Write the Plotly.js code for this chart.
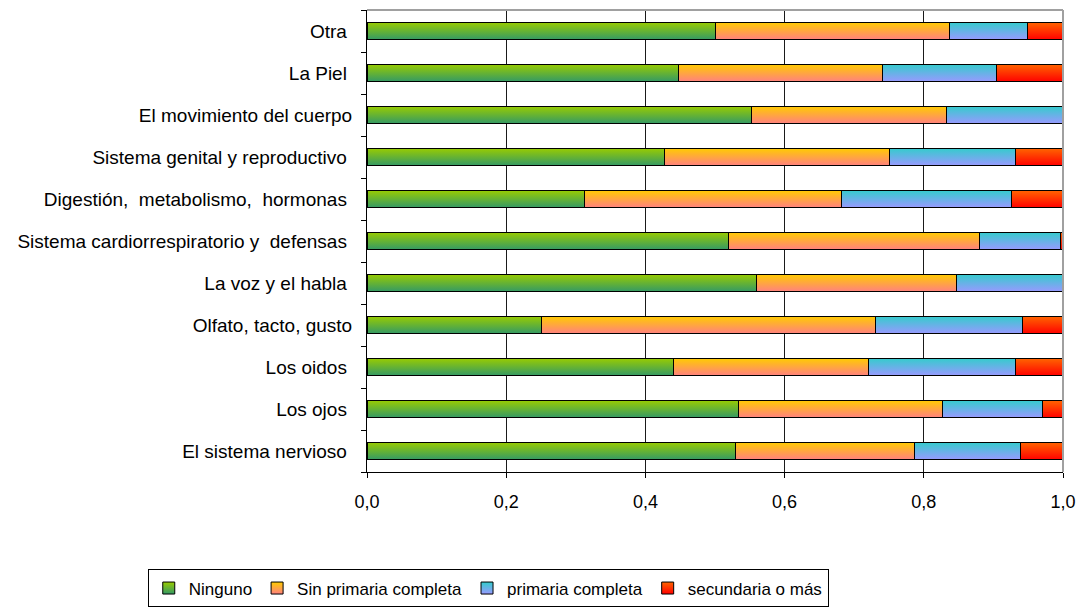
<!DOCTYPE html>
<html>
<head>
<meta charset="utf-8">
<script src="https://cdn.plot.ly/plotly-3.0.1.min.js"></script>
<style>
  html, body { margin: 0; padding: 0; background: #fff; }
  #chart { width: 1078px; height: 607px; }
</style>
</head>
<body>
<div id="chart"></div>
<script>
// Categories, bottom to top
const categories = [
  "El sistema nervioso\u00a0",
  "Los ojos\u00a0",
  "Los oidos\u00a0",
  "Olfato, tacto, gusto",
  "La voz y el habla\u00a0",
  "Sistema cardiorrespiratorio y\u00a0\u00a0defensas\u00a0",
  "Digesti\u00f3n,\u00a0\u00a0metabolismo,\u00a0\u00a0hormonas\u00a0",
  "Sistema genital y reproductivo\u00a0",
  "El movimiento del cuerpo",
  "La Piel\u00a0",
  "Otra\u00a0"
];

const seriesNames = ["Ninguno", "Sin primaria completa", "primaria completa", "secundaria o m\u00e1s"];

const ninguno       = [0.529, 0.534, 0.440, 0.250, 0.559, 0.519, 0.313, 0.428, 0.552, 0.448, 0.501];
const sinPrimaria   = [0.257, 0.293, 0.280, 0.480, 0.288, 0.361, 0.369, 0.323, 0.280, 0.293, 0.336];
const primaria      = [0.153, 0.143, 0.212, 0.212, 0.152, 0.117, 0.244, 0.181, 0.168, 0.163, 0.112];
const secundaria    = [0.061, 0.030, 0.068, 0.058, 0.000, 0.003, 0.074, 0.068, 0.000, 0.096, 0.051];

const xTickVals = [0, 0.2, 0.4, 0.6, 0.8, 1.0];

const solidColors = ["#66b033", "#ffa855", "#66b2e6", "#ff3300"];
const gradientStops = [
  ["#99cc00", "#339966"],
  ["#ffcc00", "#ff8080"],
  ["#33cccc", "#9999ff"],
  ["#ff6600", "#ff0000"]
];

const seriesValues = [ninguno, sinPrimaria, primaria, secundaria];

const data = seriesValues.map((vals, i) => ({
  type: "bar",
  orientation: "h",
  name: seriesNames[i],
  y: categories,
  x: vals,
  marker: { color: solidColors[i], line: { color: "#000", width: 1 } },
  hoverinfo: "none"
}));

const layout = {
  width: 1078,
  height: 607,
  margin: { l: 367, r: 15, t: 10, b: 135, autoexpand: false },
  paper_bgcolor: "#fff",
  plot_bgcolor: "#fff",
  barmode: "stack",
  bargap: 0.58,
  separators: ", ",
  font: { family: "Arial, 'Liberation Sans', sans-serif", size: 18, color: "#000" },
  xaxis: {
    range: [0, 1],
    tickvals: xTickVals,
    tickformat: ".1f",
    showgrid: true,
    gridcolor: "#1a1a1a",
    gridwidth: 1,
    zeroline: false,
    showline: true,
    linecolor: "#000",
    linewidth: 1,
    ticks: "outside",
    ticklen: 5,
    tickcolor: "#000",
    ticklabelstandoff: 8,
    tickfont: { size: 18 },
    fixedrange: true
  },
  yaxis: {
    type: "category",
    categoryorder: "array",
    categoryarray: categories,
    showgrid: false,
    zeroline: false,
    showline: true,
    linecolor: "#000",
    linewidth: 1,
    ticks: "outside",
    tickson: "boundaries",
    ticklen: 5,
    tickcolor: "#000",
    ticklabelstandoff: 10,
    tickfont: { size: 19 },
    fixedrange: true
  },
  shapes: [
    { type: "line", xref: "paper", yref: "paper", x0: 0, x1: 1, y0: 1, y1: 1, line: { color: "#a0a0a0", width: 2 }, layer: "above" },
    { type: "line", xref: "paper", yref: "paper", x0: 1, x1: 1, y0: 0, y1: 1, line: { color: "#a0a0a0", width: 2 }, layer: "above" }
  ],
  showlegend: true,
  legend: {
    orientation: "h",
    traceorder: "normal",
    x: -0.315,
    xanchor: "left",
    y: -0.211,
    yanchor: "top",
    bgcolor: "#fff",
    bordercolor: "#000",
    borderwidth: 1,
    font: { size: 17 },
    itemwidth: 30,
    tracegroupgap: 0
  }
};

// Vertical gradient fills like the original (applied to the bars Plotly drew)
function applyGradients(gd) {
  const ns = "http://www.w3.org/2000/svg";
  const svg = gd.querySelector("svg.main-svg");
  let defs = svg.querySelector("defs");
  if (!defs) { defs = document.createElementNS(ns, "defs"); svg.insertBefore(defs, svg.firstChild); }
  if (!svg.querySelector("#barGrad0")) {
    gradientStops.forEach((stops, i) => {
      const lg = document.createElementNS(ns, "linearGradient");
      lg.setAttribute("id", "barGrad" + i);
      lg.setAttribute("x1", "0"); lg.setAttribute("y1", "0");
      lg.setAttribute("x2", "0"); lg.setAttribute("y2", "1");
      stops.forEach((c, k) => {
        const s = document.createElementNS(ns, "stop");
        s.setAttribute("offset", k === 0 ? "0" : "1");
        s.setAttribute("stop-color", c);
        lg.appendChild(s);
      });
      defs.appendChild(lg);
    });
  }
  gd.querySelectorAll("g.barlayer g.trace").forEach((tr, i) => {
    tr.querySelectorAll("path").forEach(p => { p.style.fill = "url(#barGrad" + i + ")"; });
  });
  gd.querySelectorAll("g.legend g.traces").forEach((tr, i) => {
    tr.querySelectorAll("g.legendpoints path").forEach(p => { p.style.fill = "url(#barGrad" + i + ")"; });
  });
}

Plotly.newPlot("chart", data, layout, { staticPlot: true, displayModeBar: false }).then(gd => {
  applyGradients(gd);
  gd.on && gd.on("plotly_afterplot", () => applyGradients(gd));
  setTimeout(() => applyGradients(gd), 300);
});
</script>
</body>
</html>
